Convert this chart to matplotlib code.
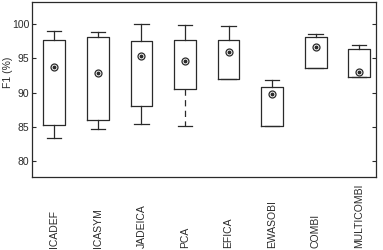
import matplotlib
matplotlib.use("Agg")
import matplotlib.pyplot as plt
import matplotlib.transforms as mtransforms

plt.rcParams['font.family'] = ['Liberation Sans', 'DejaVu Sans']

methods = ["ICADEF", "ICASYM", "JADEICA", "PCA", "EFICA", "EWASOBI", "COMBI", "MULTICOMBI"]
whislo = [83.4, 84.7, 85.4, 85.1, 92.0, 85.1, 93.55, 92.25]
q1 = [85.3, 86.05, 88.0, 90.5, 92.0, 85.1, 93.55, 92.25]
q3 = [97.6, 98.1, 97.5, 97.6, 97.6, 90.8, 98.05, 96.4]
whishi = [99.0, 98.8, 99.95, 99.9, 99.65, 91.85, 98.6, 97.0]
means = [93.7, 92.8, 95.3, 94.6, 95.85, 89.8, 96.6, 93.0]

stats = []
for i in range(len(methods)):
    stats.append({"whislo": whislo[i], "q1": q1[i], "med": q1[i],
                  "q3": q3[i], "whishi": whishi[i], "label": methods[i]})

fig = plt.figure(figsize=(3.83, 2.5), dpi=100)
ax = fig.add_axes([0.0843, 0.292, 0.8974, 0.700])

lc = "#2a2a2a"
pos = list(range(1, len(methods) + 1))
bp = ax.bxp(stats, positions=pos, widths=0.5, capwidths=0.33, showfliers=False,
            boxprops=dict(color=lc, linewidth=0.9),
            whiskerprops=dict(color=lc, linewidth=0.9),
            capprops=dict(color=lc, linewidth=0.9),
            medianprops=dict(linewidth=0))
# PCA lower whisker is dashed
bp['whiskers'][2 * methods.index("PCA")].set_dashes((5, 3.5))

ax.plot(pos, means, linestyle="none", marker="o", markersize=5,
        markerfacecolor="white", markeredgecolor=lc, markeredgewidth=0.9)
ax.plot(pos, means, linestyle="none", marker="o", markersize=1.8,
        markerfacecolor=lc, markeredgecolor=lc)

ax.set_xlim(0.495, 8.386)
ax.set_ylim(77.7, 103.2)
ax.set_yticks([80, 85, 90, 95, 100])
ax.set_xticks([])
ax.tick_params(axis="y", direction="in", right=True, length=3, width=0.8,
               labelsize=7.5, colors=lc, pad=2)
for s in ax.spines.values():
    s.set_color(lc)
    s.set_linewidth(0.9)
ax.set_ylabel("F1 (%)", fontsize=7.5, color=lc)
ax.yaxis.set_label_coords(-0.056, 0.6)

trans = mtransforms.blended_transform_factory(ax.transData, fig.transFigure)
for p, m in zip(pos, methods):
    ax.text(p, 0.008, m, rotation=90, ha="center", va="bottom",
            fontsize=7.5, color=lc, transform=trans)

fig.savefig("out.png", dpi=100)
